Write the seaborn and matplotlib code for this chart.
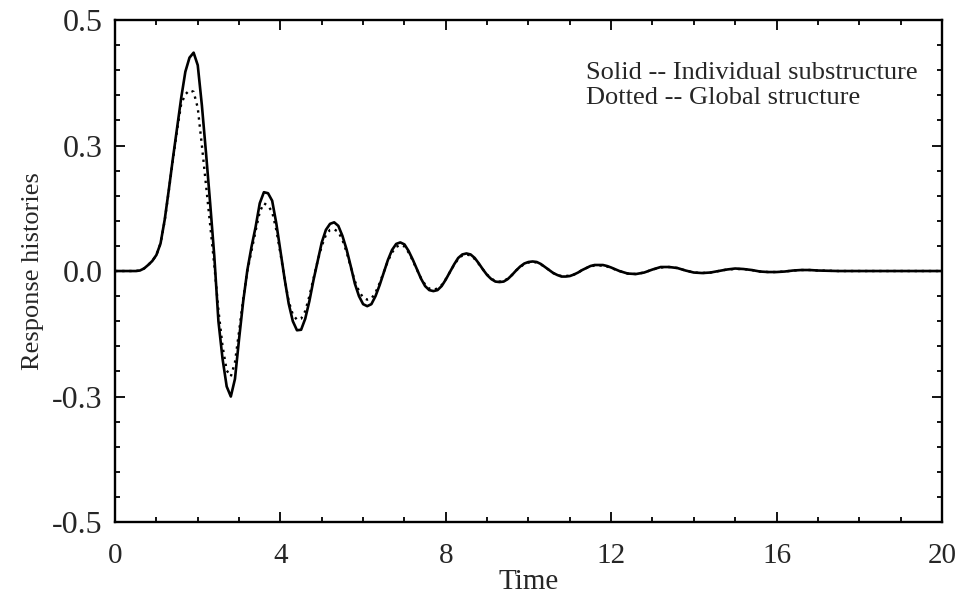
import numpy as np
import pandas as pd
import matplotlib
matplotlib.use('Agg')
import matplotlib.pyplot as plt
import seaborn as sns
from matplotlib.ticker import MultipleLocator

# time grid
time = [0.0, 0.1, 0.2, 0.3, 0.4, 0.5, 0.6, 0.7, 0.8, 0.9,
        1.0, 1.1, 1.2, 1.3, 1.4, 1.5, 1.6, 1.7, 1.8, 1.9,
        2.0, 2.1, 2.2, 2.3, 2.4, 2.5, 2.6, 2.7, 2.8, 2.9,
        3.0, 3.1, 3.2, 3.3, 3.4, 3.5, 3.6, 3.7, 3.8, 3.9,
        4.0, 4.1, 4.2, 4.3, 4.4, 4.5, 4.6, 4.7, 4.8, 4.9,
        5.0, 5.1, 5.2, 5.3, 5.4, 5.5, 5.6, 5.7, 5.8, 5.9,
        6.0, 6.1, 6.2, 6.3, 6.4, 6.5, 6.6, 6.7, 6.8, 6.9,
        7.0, 7.1, 7.2, 7.3, 7.4, 7.5, 7.6, 7.7, 7.8, 7.9,
        8.0, 8.1, 8.2, 8.3, 8.4, 8.5, 8.6, 8.7, 8.8, 8.9,
        9.0, 9.1, 9.2, 9.3, 9.4, 9.5, 9.6, 9.7, 9.8, 9.9,
        10.0, 10.1, 10.2, 10.3, 10.4, 10.5, 10.6, 10.7, 10.8, 10.9,
        11.0, 11.1, 11.2, 11.3, 11.4, 11.5, 11.6, 11.7, 11.8, 11.9,
        12.0, 12.2, 12.4, 12.6, 12.8, 13.0, 13.2, 13.4, 13.6, 13.8,
        14.0, 14.2, 14.4, 14.6, 14.8, 15.0, 15.2, 15.4, 15.6, 15.8,
        16.0, 16.2, 16.4, 16.6, 16.8, 17.0, 17.5, 18.0, 19.0, 20.0]

# individual substructure (solid)
solid = [0.0, 0.0, 0.0, 0.0, 0.0, 0.0, 0.001, 0.005, 0.012, 0.020,
         0.032, 0.055, 0.102, 0.162, 0.225, 0.285, 0.345, 0.397, 0.425, 0.435,
         0.410, 0.330, 0.235, 0.135, 0.030, -0.100, -0.175, -0.230, -0.250, -0.215,
         -0.135, -0.060, 0.002, 0.048, 0.088, 0.135, 0.157, 0.155, 0.140, 0.095,
         0.040, -0.015, -0.065, -0.100, -0.118, -0.117, -0.095, -0.060, -0.018, 0.020,
         0.057, 0.082, 0.094, 0.097, 0.090, 0.070, 0.043, 0.010, -0.025, -0.050,
         -0.066, -0.070, -0.066, -0.050, -0.028, -0.003, 0.022, 0.042, 0.054, 0.057,
         0.053, 0.040, 0.023, 0.004, -0.015, -0.030, -0.038, -0.040, -0.038, -0.030,
         -0.017, -0.002, 0.013, 0.026, 0.033, 0.035, 0.033, 0.026, 0.015, 0.003,
         -0.008, -0.016, -0.021, -0.022, -0.021, -0.016, -0.008, 0.001, 0.009, 0.015,
         0.018, 0.019, 0.018, 0.014, 0.008, 0.002, -0.004, -0.008, -0.011, -0.011,
         -0.010, -0.007, -0.003, 0.002, 0.006, 0.010, 0.012, 0.012, 0.012, 0.010,
         0.007, 0.000, -0.005, -0.006, -0.003, 0.003, 0.008, 0.008, 0.006, 0.001,
         -0.003, -0.004, -0.003, 0.000, 0.003, 0.005, 0.004, 0.002, -0.001, -0.002,
         -0.002, -0.001, 0.001, 0.002, 0.002, 0.001, 0.000, 0.000, 0.000, 0.000]

# global structure (dotted)
dotted = [0.0, 0.0, 0.0, 0.0, 0.0, 0.0, 0.001, 0.005, 0.012, 0.020,
          0.032, 0.055, 0.100, 0.160, 0.222, 0.280, 0.333, 0.352, 0.360, 0.357,
          0.325, 0.250, 0.172, 0.092, 0.012, -0.078, -0.150, -0.198, -0.210, -0.182,
          -0.120, -0.055, 0.000, 0.040, 0.080, 0.118, 0.135, 0.130, 0.118, 0.082,
          0.035, -0.015, -0.060, -0.087, -0.097, -0.095, -0.080, -0.050, -0.015, 0.020,
          0.050, 0.072, 0.082, 0.083, 0.078, 0.062, 0.038, 0.008, -0.020, -0.040,
          -0.053, -0.057, -0.055, -0.043, -0.024, -0.002, 0.020, 0.037, 0.048, 0.052,
          0.049, 0.037, 0.021, 0.003, -0.014, -0.027, -0.035, -0.037, -0.035, -0.028,
          -0.016, -0.002, 0.012, 0.024, 0.031, 0.033, 0.031, 0.024, 0.014, 0.003,
          -0.007, -0.015, -0.020, -0.021, -0.020, -0.015, -0.008, 0.001, 0.008, 0.014,
          0.017, 0.018, 0.017, 0.013, 0.008, 0.002, -0.004, -0.008, -0.010, -0.010,
          -0.009, -0.007, -0.003, 0.002, 0.006, 0.009, 0.011, 0.011, 0.011, 0.009,
          0.006, 0.000, -0.005, -0.006, -0.003, 0.003, 0.007, 0.008, 0.006, 0.001,
          -0.003, -0.004, -0.003, 0.000, 0.003, 0.004, 0.004, 0.002, -0.001, -0.002,
          -0.002, -0.001, 0.001, 0.002, 0.002, 0.001, 0.000, 0.000, 0.000, 0.000]

ytick_pos = [-0.5, -0.25, 0.0, 0.25, 0.5]
ytick_labels = ['-0.5', '-0.3', '0.0', '0.3', '0.5']
xtick_pos = [0, 4, 8, 12, 16, 20]

df = pd.DataFrame({'Time': time, 'Solid': solid, 'Dotted': dotted})

sns.set_theme(style='ticks')
plt.rcParams['font.family'] = ['Liberation Serif', 'DejaVu Serif']

fig = plt.figure(figsize=(9.67, 6.07), dpi=100)
ax = fig.add_axes([0.119, 0.140, 0.855, 0.827])

sns.lineplot(data=df, x='Time', y='Solid', ax=ax, color='black', linewidth=1.9)
sns.lineplot(data=df, x='Time', y='Dotted', ax=ax, color='black', linewidth=1.7,
             linestyle=(0, (1, 2.0)))

ax.set_xlim(0, 20)
ax.set_ylim(-0.5, 0.5)
ax.set_xticks(xtick_pos)
ax.set_yticks(ytick_pos)
ax.set_yticklabels(ytick_labels)
ax.xaxis.set_minor_locator(MultipleLocator(1))
ax.yaxis.set_minor_locator(MultipleLocator(0.05))
ax.tick_params(which='both', direction='in', top=True, right=True,
               color='black', width=1.3)
ax.tick_params(which='major', length=7)
ax.tick_params(axis='y', which='major', labelsize=23, pad=9)
ax.tick_params(axis='x', which='major', labelsize=21, pad=15)
ax.tick_params(which='minor', length=3.5)
for sp in ax.spines.values():
    sp.set_linewidth(1.7)
    sp.set_color('black')

ax.set_xlabel('Time', fontsize=21, labelpad=0)
ax.set_ylabel('Response histories', fontsize=19, labelpad=6)

ax.text(0.569, 0.895, 'Solid -- Individual substructure', transform=ax.transAxes,
        fontsize=19, va='center', ha='left')
ax.text(0.569, 0.845, 'Dotted -- Global structure', transform=ax.transAxes,
        fontsize=19, va='center', ha='left')

fig.savefig('out.png', dpi=100)
